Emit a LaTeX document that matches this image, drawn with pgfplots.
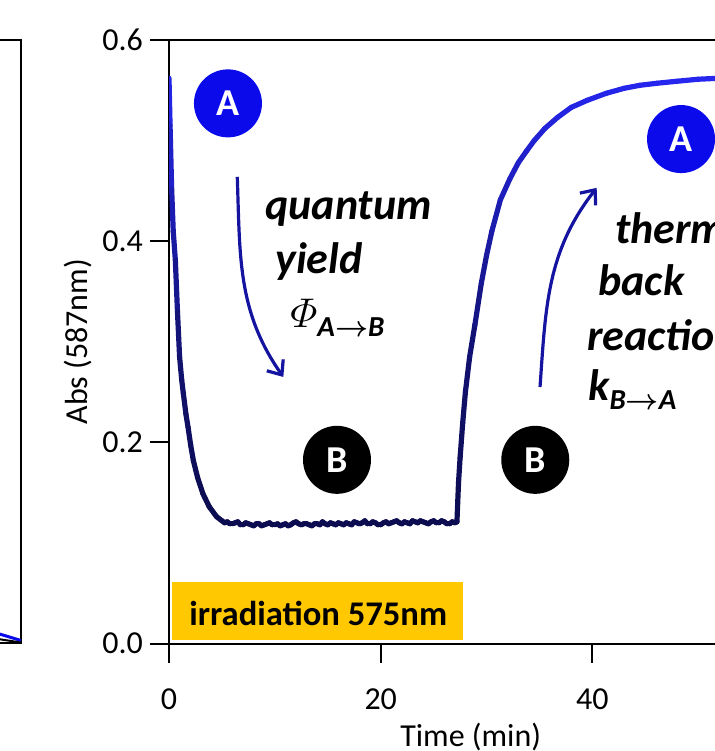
\documentclass[border=0pt]{standalone}
\usepackage{fontspec}
\setmainfont{Carlito}
\usepackage{amsmath}
\usepackage{pgfplots}
\pgfplotsset{compat=1.18}
\usetikzlibrary{arrows.meta}
\definecolor{navy}{RGB}{14,14,90}
\definecolor{cblue}{RGB}{10,10,235}
\definecolor{gold}{RGB}{255,200,0}
\definecolor{arrA}{RGB}{20,20,160}
\begin{document}
\begin{tikzpicture}
\useasboundingbox (0,0) rectangle (357.5pt,375.5pt);
\clip (0,0) rectangle (357.5pt,375.5pt);
% fragment of left panel
\begin{axis}[at={(10.5pt,53.75pt)}, anchor=south east, scale only axis,
  width=200pt, height=301.75pt, xmin=0, xmax=100, ymin=0, ymax=0.6,
  xtick=\empty, ytick=\empty, axis line style={line width=1pt}]
\addplot[cblue, line width=1.5pt] coordinates {(90,0.016)(95,0.009)(100,0.003)};
\addplot[black, line width=1pt] coordinates {(90,0.009)(95,0.004)(100,0.001)};
\end{axis}
\begin{axis}[at={(84.5pt,53.75pt)}, anchor=south west, scale only axis,
  width=301.7pt, height=301.75pt,
  xmin=0, xmax=57, ymin=0, ymax=0.6,
  xtick={0,20,40}, ytick={0,0.2,0.4,0.6},
  tick align=outside, xtick pos=bottom, ytick pos=left,
  major tick length=9.5pt,
  tick style={black, line width=1pt},
  axis line style={line width=1pt},
  /pgf/number format/assume math mode=true,
  yticklabel style={/pgf/number format/fixed, /pgf/number format/fixed zerofill, /pgf/number format/precision=1},
  xticklabel style={yshift=-9.5pt},
  ticklabel style={font=\fontsize{16}{19}\selectfont},
  label style={font=\fontsize{16}{19}\selectfont},
  xlabel={Time (min)}, ylabel={Abs (587nm)},
  xlabel style={at={(axis description cs:0.5,-0.17)}, anchor=base},
  ylabel style={at={(axis description cs:-0.151,0.5)}, anchor=center, rotate=0},
  colormap={curvemap}{rgb255(0cm)=(12,12,80); rgb255(4cm)=(18,18,115); rgb255(10cm)=(38,38,240)},
  point meta min=0.12, point meta max=0.563,
]
% irradiation box
\fill[gold] (axis cs:0.26,0.0035) rectangle (axis cs:27.75,0.0612);
\node[anchor=base, inner sep=0, font=\bfseries\fontsize{17.3}{20}\selectfont] at (axis cs:14.1,0.0179) {irradiation 575nm};
% data curve
\addplot[mesh, point meta=y, line width=2.6pt, line cap=round] coordinates {
(0,0.562)(0.1,0.515)(0.25,0.452)(0.4,0.41)(0.6,0.381)(0.8,0.33)(1.0,0.285)(1.2,0.262)(1.35,0.249)(1.6,0.228)(1.8,0.215)(2.05,0.197)(2.3,0.182)(2.7,0.165)(3.2,0.149)(3.8,0.136)(4.5,0.126)
(5.0,0.122)(5.25,0.120)(5.5,0.121)(5.75,0.119)(6.0,0.119)(6.25,0.120)(6.5,0.121)(6.75,0.118)(7.0,0.118)(7.25,0.120)(7.5,0.119)(7.75,0.118)(8.0,0.117)(8.25,0.119)(8.5,0.119)(8.75,0.117)(9.0,0.118)(9.25,0.119)(9.5,0.120)(9.75,0.118)
(10.0,0.118)(10.25,0.119)(10.5,0.117)(10.75,0.118)(11.0,0.119)(11.25,0.117)(11.5,0.118)(11.75,0.120)(12.0,0.121)(12.25,0.119)(12.5,0.118)(12.75,0.119)(13.0,0.119)(13.25,0.118)(13.5,0.117)(13.75,0.119)(14.0,0.119)(14.25,0.118)(14.5,0.121)(14.75,0.119)
(15.0,0.118)(15.25,0.120)(15.5,0.119)(15.75,0.118)(16.0,0.120)(16.25,0.119)(16.5,0.118)(16.75,0.120)(17.0,0.119)(17.25,0.118)(17.5,0.121)(17.75,0.120)(18.0,0.119)(18.25,0.120)(18.5,0.122)(18.75,0.119)(19.0,0.119)(19.25,0.121)(19.5,0.120)(19.75,0.118)
(20.0,0.118)(20.25,0.120)(20.5,0.121)(20.75,0.119)(21.0,0.120)(21.25,0.121)(21.5,0.122)(21.75,0.120)(22.0,0.119)(22.25,0.121)(22.5,0.120)(22.75,0.119)(23.0,0.122)(23.25,0.121)(23.5,0.120)(23.75,0.122)(24.0,0.121)(24.25,0.120)(24.5,0.119)(24.75,0.121)
(25.0,0.122)(25.25,0.120)(25.5,0.120)(25.75,0.122)(26.0,0.121)(26.25,0.119)(26.5,0.119)(26.75,0.121)(27.0,0.120)(27.2,0.121)
(27.35,0.16)(27.5,0.185)(27.75,0.22)(28.0,0.25)(28.4,0.285)(28.9,0.317)(29.5,0.358)(30.0,0.386)(30.5,0.41)(31.3,0.441)
(32.2,0.462)(33.0,0.478)(33.8,0.490)(34.5,0.500)(35.5,0.512)(36.7,0.523)(38.0,0.533)(39.5,0.540)(41.3,0.547)(43.0,0.552)
(44.5,0.555)(46.1,0.557)(48.0,0.559)(50.0,0.561)(52.0,0.562)(54.0,0.563)(57.0,0.563)
};
% circles
\begin{scope}[every node/.style={circle, minimum size=34pt, inner sep=0, text=white, font=\bfseries\fontsize{19}{22}\selectfont}]
\node[fill=cblue] at (axis cs:5.57,0.537) {A};
\node[fill=black] at (axis cs:15.87,0.1826) {B};
\node[fill=black] at (axis cs:34.6,0.1826) {B};
\node[fill=cblue] at (axis cs:48.37,0.5015) {A};
\end{scope}
% arrows
\draw[arrA, line width=1.6pt, -{Straight Barb[length=6pt,width=10pt]}] (axis cs:6.45,0.464) to[out=-88, in=125] (axis cs:10.8,0.265);
\draw[arrA, line width=1.6pt, -{Straight Barb[length=6pt,width=10pt]}] (axis cs:35.05,0.255) to[out=86, in=-128] (axis cs:40.4,0.453);
% annotations
\begin{scope}[every node/.style={anchor=base west, inner sep=0, font=\bfseries\itshape\fontsize{22}{25}\selectfont}]
\node at (axis cs:9.07,0.4219) {quantum};
\node at (axis cs:10.01,0.3682) {yield};
\node at (axis cs:11.43,0.3144) {$\varPhi$\raisebox{-4.5pt}{\fontsize{14.5}{17}\selectfont A$\boldsymbol{\rightarrow}$B}};
\node at (axis cs:42.13,0.398) {thermal};
\node at (axis cs:40.53,0.3463) {back};
\node at (axis cs:39.49,0.2915) {reaction};
\node at (axis cs:39.58,0.2418) {k\raisebox{-4.5pt}{\fontsize{14.5}{17}\selectfont B$\boldsymbol{\rightarrow}$A}};
\end{scope}
\end{axis}
\end{tikzpicture}
\end{document}
